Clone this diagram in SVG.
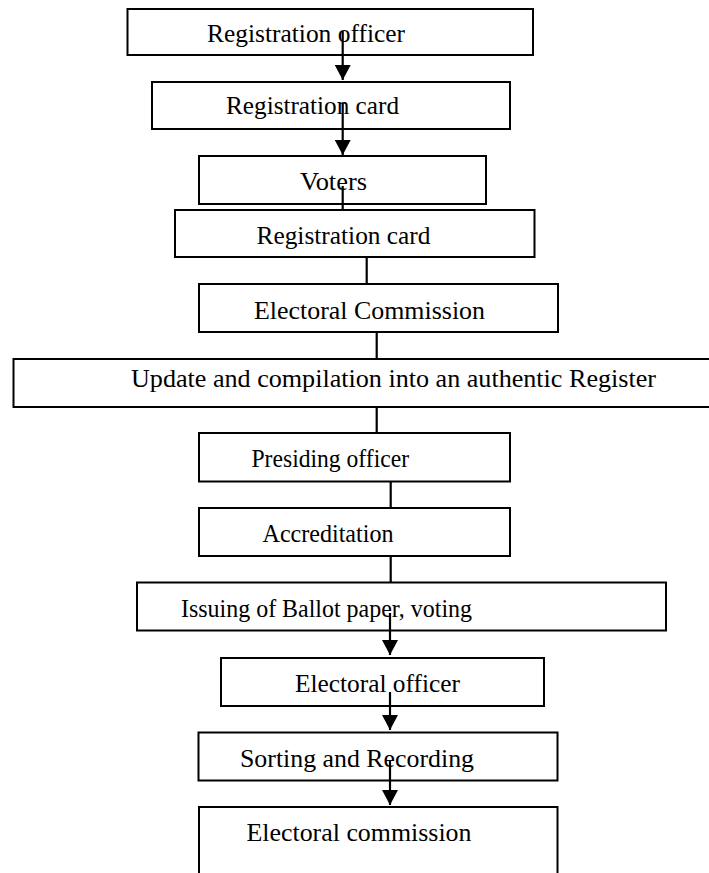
<svg xmlns="http://www.w3.org/2000/svg" width="709" height="873" viewBox="0 0 709 873">
<style>
  .box { fill: #ffffff; stroke: #000000; stroke-width: 2; }
  .lbl { font-family: "Liberation Serif", "Times New Roman", serif; font-size: 25px; fill: #000000; }
  .con { stroke: #000000; stroke-width: 2.2; fill: none; }
</style>
<defs>
  <marker id="arr" markerUnits="userSpaceOnUse" markerWidth="15" markerHeight="16" refX="15" refY="8" orient="auto" viewBox="0 0 15 16">
    <path d="M0,0 L15,8 L0,16 Z" fill="#000000"/>
  </marker>
</defs>
<rect width="709" height="873" fill="#ffffff"/>
<g id="n1"><rect class="box" x="127.5" y="9" width="405.5" height="46"/><text class="lbl" x="207" y="41.5" textLength="198" lengthAdjust="spacingAndGlyphs">Registration officer</text></g>
<g id="n2"><rect class="box" x="152" y="82" width="358" height="47"/><text class="lbl" x="226" y="113.5" textLength="173" lengthAdjust="spacingAndGlyphs">Registration card</text></g>
<g id="n3"><rect class="box" x="199" y="156" width="287" height="48"/><text class="lbl" x="300" y="190" textLength="67" lengthAdjust="spacingAndGlyphs">Voters</text></g>
<g id="n4"><rect class="box" x="175" y="210" width="359.5" height="47"/><text class="lbl" x="256.5" y="243.5" textLength="174" lengthAdjust="spacingAndGlyphs">Registration card</text></g>
<g id="n5"><rect class="box" x="199" y="284" width="359" height="48"/><text class="lbl" x="254" y="318.5" textLength="231" lengthAdjust="spacingAndGlyphs">Electoral Commission</text></g>
<g id="n6"><rect class="box" x="13.5" y="359" width="720" height="48"/><text class="lbl" x="131" y="387" textLength="525" lengthAdjust="spacingAndGlyphs">Update and compilation into an authentic Register</text></g>
<g id="n7"><rect class="box" x="199" y="433" width="311" height="48.5"/><text class="lbl" x="251.5" y="466.5" textLength="157.5" lengthAdjust="spacingAndGlyphs">Presiding officer</text></g>
<g id="n8"><rect class="box" x="199" y="508" width="311" height="48"/><text class="lbl" x="262.5" y="541.5" textLength="131" lengthAdjust="spacingAndGlyphs">Accreditation</text></g>
<g id="n9"><rect class="box" x="137" y="582.5" width="529" height="48"/><text class="lbl" x="181" y="616.5" textLength="291" lengthAdjust="spacingAndGlyphs">Issuing of Ballot paper, voting</text></g>
<g id="n10"><rect class="box" x="221" y="658" width="323" height="48"/><text class="lbl" x="295" y="691.5" textLength="165" lengthAdjust="spacingAndGlyphs">Electoral officer</text></g>
<g id="n11"><rect class="box" x="198.5" y="732.5" width="359" height="48"/><text class="lbl" x="240" y="766.5" textLength="234" lengthAdjust="spacingAndGlyphs">Sorting and Recording</text></g>
<g id="n12"><rect class="box" x="199" y="807" width="358.5" height="80"/><text class="lbl" x="246.5" y="840.5" textLength="225" lengthAdjust="spacingAndGlyphs">Electoral commission</text></g>
<g id="connectors">
  <line class="con" x1="342.7" y1="31" x2="342.7" y2="80" marker-end="url(#arr)"/>
  <line class="con" x1="342.7" y1="103" x2="342.7" y2="155" marker-end="url(#arr)"/>
  <line class="con" x1="342.7" y1="186" x2="342.7" y2="210"/>
  <line class="con" x1="366.7" y1="257" x2="366.7" y2="284"/>
  <line class="con" x1="376.7" y1="332" x2="376.7" y2="359"/>
  <line class="con" x1="376.7" y1="407" x2="376.7" y2="433"/>
  <line class="con" x1="390.7" y1="481.5" x2="390.7" y2="508"/>
  <line class="con" x1="390.7" y1="556" x2="390.7" y2="582.5"/>
  <line class="con" x1="390" y1="613" x2="390" y2="655" marker-end="url(#arr)"/>
  <line class="con" x1="390" y1="692" x2="390" y2="730" marker-end="url(#arr)"/>
  <line class="con" x1="390" y1="760" x2="390" y2="805" marker-end="url(#arr)"/>
</g>
</svg>
